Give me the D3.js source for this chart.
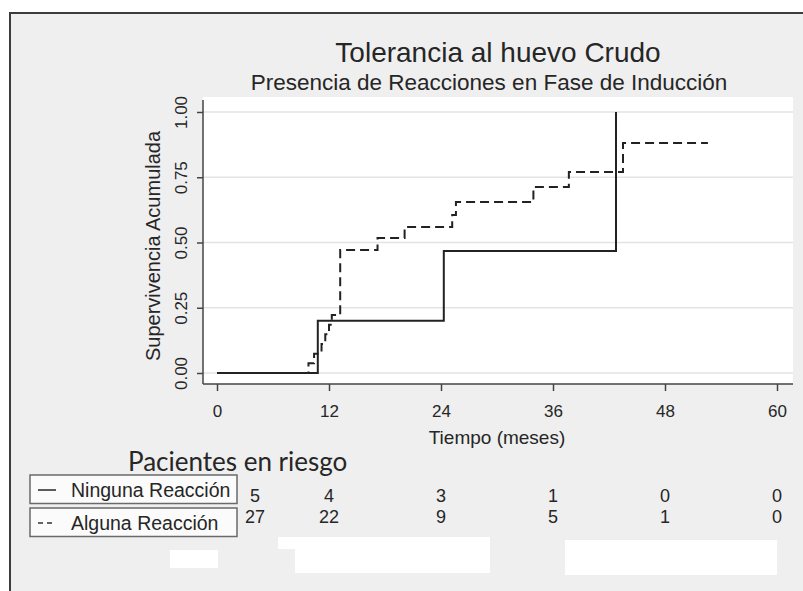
<!DOCTYPE html>
<html>
<head>
<meta charset="utf-8">
<script src="https://cdn.jsdelivr.net/npm/d3@7"></script>
<style>
  html, body { margin: 0; padding: 0; background: #ffffff; }
  svg { display: block; }
  text { font-family: "Liberation Sans", Arial, sans-serif; fill: #262626; }
</style>
</head>
<body>
<script>
// Cumulative failure (1 - Kaplan-Meier) by group
const ningunaTime  = [0, 10.8, 24.3, 42.75];
const ningunaValue = [0, 0.2, 0.467, 1.0];

const algunaTime  = [0, 9.8, 10.4, 11.2, 11.6, 12.0, 12.3, 13.2, 17.2, 20.1, 25.2, 25.6, 33.9, 37.7, 43.5, 52.6];
const algunaValue = [0, 0.037, 0.074, 0.111, 0.148, 0.185, 0.222, 0.471, 0.517, 0.559, 0.605, 0.655, 0.713, 0.770, 0.881, 0.881];

const xTicks = [0, 12, 24, 36, 48, 60];
const yTicks = [0, 0.25, 0.5, 0.75, 1.0];

const groupNames = ["Ninguna Reacción", "Alguna Reacción"];
const riskTimes = [0, 12, 24, 36, 48, 60];
const riskNinguna = [5, 4, 3, 1, 0, 0];
const riskAlguna  = [27, 22, 9, 5, 1, 0];

const W = 803, H = 591;
const svg = d3.select("body").append("svg").attr("width", W).attr("height", H);

// outer panel
svg.append("rect").attr("x", 10).attr("y", 13).attr("width", W - 10).attr("height", H - 13)
  .attr("fill", "#efefef");
svg.append("path").attr("d", `M10,${H} L10,13 L${W},13`)
  .attr("fill", "none").attr("stroke", "#3c3c3c").attr("stroke-width", 2);

// plot region
const plot = { left: 203, right: 793, top: 97, bottom: 384 };
const x = d3.scaleLinear().domain([0, 60]).range([217, 777]);
const y = d3.scaleLinear().domain([0, 1]).range([373, 112]);

svg.append("rect").attr("x", plot.left).attr("y", plot.top)
  .attr("width", plot.right - plot.left).attr("height", plot.bottom - plot.top)
  .attr("fill", "#ffffff");

// horizontal grid
svg.append("g").selectAll("line").data(yTicks).join("line")
  .attr("x1", plot.left).attr("x2", plot.right)
  .attr("y1", d => y(d)).attr("y2", d => y(d))
  .attr("stroke", "#e3e3e3").attr("stroke-width", 1.5);

// titles
svg.append("text").attr("x", 498).attr("y", 62).attr("text-anchor", "middle")
  .style("font-size", "28px").text("Tolerancia al huevo Crudo");
svg.append("text").attr("x", 489).attr("y", 90).attr("text-anchor", "middle")
  .style("font-size", "22.5px").text("Presencia de Reacciones en Fase de Inducción");

// x axis
const xAxis = svg.append("g").attr("transform", `translate(0,${plot.bottom})`)
  .call(d3.axisBottom(x).tickValues(xTicks).tickSize(7).tickPadding(14).tickFormat(d3.format("d")));
xAxis.select(".domain").attr("d", `M${plot.left},0H${plot.right}`).attr("stroke", "#444").attr("stroke-width", 1.5);
xAxis.selectAll(".tick line").attr("stroke", "#444").attr("stroke-width", 1.5);
xAxis.selectAll(".tick text").style("font-size", "17px").attr("fill", "#262626")
  .style("font-family", "'Liberation Sans', Arial, sans-serif");

svg.append("text").attr("x", 497).attr("y", 444).attr("text-anchor", "middle")
  .style("font-size", "19px").text("Tiempo (meses)");

// y axis
const yAxis = svg.append("g").attr("transform", `translate(${plot.left},0)`)
  .call(d3.axisLeft(y).tickValues(yTicks).tickSize(6).tickFormat(d3.format(".2f")));
yAxis.select(".domain").attr("d", `M0,${plot.top + 3}V${plot.bottom}`).attr("stroke", "#444").attr("stroke-width", 1.5);
yAxis.selectAll(".tick line").attr("stroke", "#444").attr("stroke-width", 1.5);
yAxis.selectAll(".tick text")
  .attr("x", null).attr("dy", null)
  .attr("transform", "translate(-22,0) rotate(-90)")
  .attr("text-anchor", "middle").attr("dy", "0.35em")
  .style("font-size", "17px").attr("fill", "#262626")
  .style("font-family", "'Liberation Sans', Arial, sans-serif");

svg.append("text").attr("transform", "translate(153,246) rotate(-90)")
  .attr("text-anchor", "middle").attr("dy", "0.35em")
  .style("font-size", "20px").text("Supervivencia Acumulada");

// step curves
const step = d3.line().x(d => x(d[0])).y(d => y(d[1])).curve(d3.curveStepAfter);
svg.append("path").datum(d3.zip(algunaTime, algunaValue)).attr("d", step)
  .attr("fill", "none").attr("stroke", "#222").attr("stroke-width", 2)
  .attr("stroke-dasharray", "9,5");
svg.append("path").datum(d3.zip(ningunaTime, ningunaValue)).attr("d", step)
  .attr("fill", "none").attr("stroke", "#222").attr("stroke-width", 2);

// risk table
svg.append("text").attr("x", 128).attr("y", 471)
  .style("font-family", "Lato, 'Open Sans', sans-serif").style("font-size", "26px")
  .attr("fill", "#303030").text("Pacientes en riesgo");

const legendRows = [
  { name: groupNames[0], dash: null, top: 475, counts: riskNinguna, base: 502 },
  { name: groupNames[1], dash: "5,4", top: 508, counts: riskAlguna, base: 523 }
];
legendRows.forEach(r => {
  svg.append("rect").attr("x", 30).attr("y", r.top).attr("width", 207).attr("height", 28.5)
    .attr("fill", "#fbfbfb").attr("stroke", "#6a6a6a").attr("stroke-width", 1.5);
  svg.append("line").attr("x1", 38).attr("x2", 56)
    .attr("y1", r.top + 15).attr("y2", r.top + 15)
    .attr("stroke", "#333").attr("stroke-width", 1.6)
    .attr("stroke-dasharray", r.dash);
  svg.append("text").attr("x", 71).attr("y", r.top + 21.5)
    .style("font-size", "19.5px").text(r.name);
  svg.append("g").selectAll("text").data(r.counts).join("text")
    .attr("x", (d, i) => i === 0 ? x(riskTimes[i]) + 38 : x(riskTimes[i]))
    .attr("y", r.base).attr("text-anchor", "middle")
    .style("font-size", "18px").text(d => d);
});

// blanked-out footer areas
const blanks = [[170, 550, 48, 18], [278, 537, 212, 12], [295, 537, 195, 36], [565, 540, 212, 35]];
svg.append("g").selectAll("rect").data(blanks).join("rect")
  .attr("x", d => d[0]).attr("y", d => d[1]).attr("width", d => d[2]).attr("height", d => d[3])
  .attr("fill", "#ffffff");
</script>
</body>
</html>
